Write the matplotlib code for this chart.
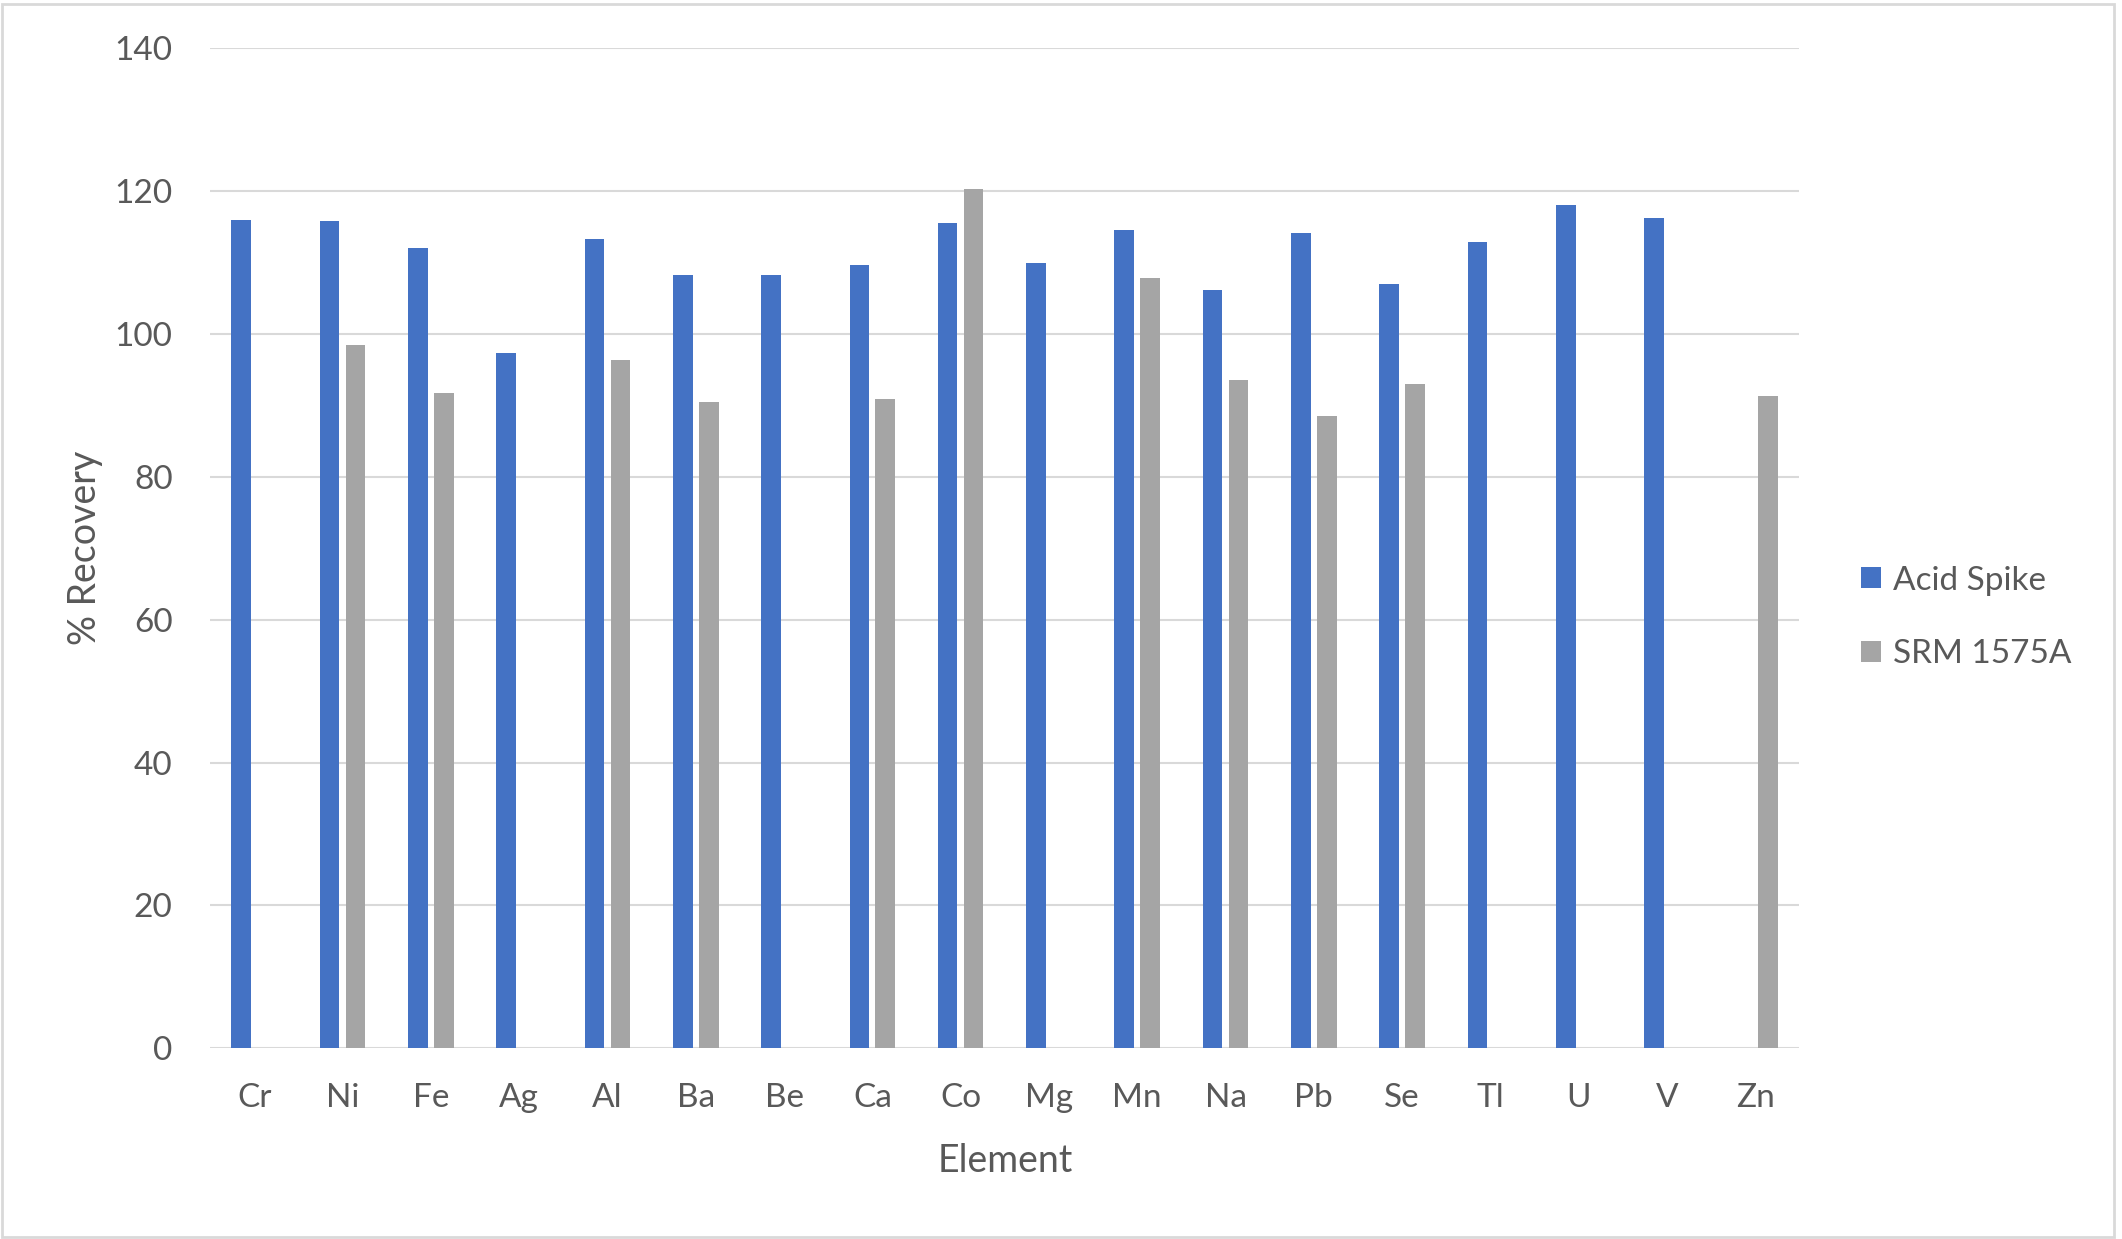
# Recovery chart: acid spike vs SRM 1575A per element.

import numpy as np
import matplotlib.pyplot as plt
from matplotlib.patches import Rectangle

# Data.

elements = ['Cr', 'Ni', 'Fe', 'Ag', 'Al', 'Ba', 'Be', 'Ca', 'Co',
            'Mg', 'Mn', 'Na', 'Pb', 'Se', 'Tl', 'U', 'V', 'Zn']

acid_spike = [115.9, 115.8, 112.1, 97.4, 113.3, 108.3, 108.2, 109.7, 115.6,
              109.9, 114.6, 106.1, 114.2, 107.0, 112.9, 118.1, 116.3, np.nan]

srm_1575a = [np.nan, 98.5, 91.8, np.nan, 96.4, 90.5, np.nan, 90.9, 120.3,
             np.nan, 107.9, 93.5, 88.5, 93.0, np.nan, np.nan, np.nan, 91.3]

series_names = ['Acid Spike', 'SRM 1575A']

# Styling.

plt.rcParams['font.family'] = ['Lato', 'DejaVu Sans']
text_color = '#595959'
grid_color = '#D9D9D9'

fig = plt.figure(figsize=(21.22, 12.39), dpi=100)
ax = fig.add_axes([0.099, 0.154, 0.749, 0.807])

x = np.arange(len(elements))
width = 0.222
offset = 0.147

ax.bar(x - offset, acid_spike, width, color='#4472C4', label=series_names[0], zorder=3)
ax.bar(x + offset, srm_1575a, width, color='#A5A5A5', label=series_names[1], zorder=3)

ax.set_xlim(-0.5, len(elements) - 0.5)
ax.set_ylim(0, 140)
ax.set_yticks(range(0, 141, 20))
ax.set_xticks(x)
ax.set_xticklabels(elements)

ax.grid(axis='y', color=grid_color, linewidth=1.5, zorder=0)
for side in ['top', 'right', 'left', 'bottom']:
    ax.spines[side].set_visible(False)
ax.axhline(0, color=grid_color, linewidth=2, zorder=2)

ax.tick_params(axis='y', length=0, pad=27, labelsize=24, labelcolor=text_color)
ax.tick_params(axis='x', length=0, pad=25, labelsize=24, labelcolor=text_color)

ax.set_xlabel('Element', fontsize=27, color=text_color, labelpad=22)
ax.set_ylabel('% Recovery', fontsize=27, color=text_color, labelpad=8)

# Legend on the right.

ax.legend(loc='center left', bbox_to_anchor=(1.02, 0.431), frameon=False,
          fontsize=24, handlelength=0.6, handleheight=0.6,
          handletextpad=0.35, labelspacing=1.3, labelcolor=text_color)

# Outer border.

fig.patches.append(Rectangle((0.001, 0.002), 0.995, 0.995, transform=fig.transFigure,
                             fill=False, edgecolor=grid_color, linewidth=2))

fig.savefig('out.png', dpi=100)
